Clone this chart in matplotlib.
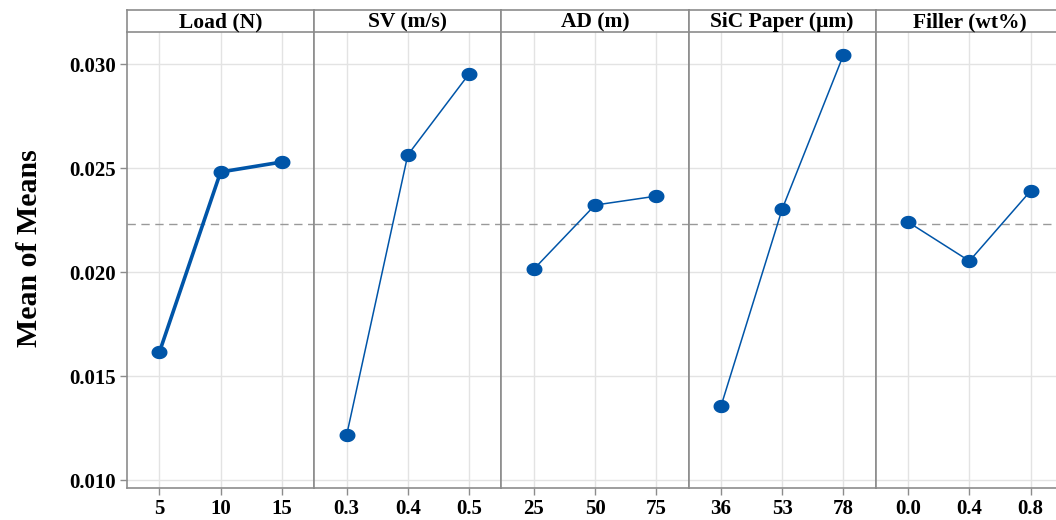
import matplotlib
matplotlib.use("Agg")
import matplotlib.pyplot as plt
from matplotlib.path import Path
import numpy as np

plt.rcParams['font.family'] = ['Liberation Serif', 'DejaVu Serif']
plt.rcParams['font.weight'] = 'bold'

factors = ["Load (N)", "SV (m/s)", "AD (m)", "SiC Paper (\u00b5m)", "Filler (wt%)"]
levels = [["5", "10", "15"], ["0.3", "0.4", "0.5"], ["25", "50", "75"],
          ["36", "53", "78"], ["0.0", "0.4", "0.8"]]
load_means = [0.01615, 0.02481, 0.02529]
sv_means = [0.01216, 0.02563, 0.02952]
ad_means = [0.02014, 0.02322, 0.02365]
sic_means = [0.01356, 0.02303, 0.03043]
filler_means = [0.02240, 0.02053, 0.02390]
series = [load_means, sv_means, ad_means, sic_means, filler_means]
overall_mean = 0.02231
yticks = [0.010, 0.015, 0.020, 0.025, 0.030]

W, H = 1056, 520
fig = plt.figure(figsize=(W / 100, H / 100), dpi=100)

left0 = 127
pw = 187.2
bottom_px = 488
top_px = 32
strip_top = 10
frame_col = '#8c8c8c'
grid_col = '#e3e3e3'
blue = '#0055A8'

# slightly wide elliptical marker
t = np.linspace(0, 2 * np.pi, 40)
ell = Path(np.column_stack([np.cos(t), 0.82 * np.sin(t)]), closed=True)

for i, (name, labs, vals) in enumerate(zip(factors, levels, series)):
    x0 = left0 + i * pw
    ax = fig.add_axes([x0 / W, (H - bottom_px) / H, pw / W, (bottom_px - top_px) / H])
    xs = np.arange(len(vals))
    ax.axhline(overall_mean, color='#999999', lw=1, ls=(0, (6, 4)), zorder=2)
    lw = 2.6 if i == 0 else 1.1
    ax.plot(xs, vals, color=blue, lw=lw, marker=ell, ms=10.5, mfc=blue, mec=blue, zorder=3)
    ax.set_xlim(-0.53, 2.53)
    ax.set_ylim(0.00962, 0.03154)
    ax.set_xticks(xs)
    ax.set_xticklabels(labs, fontsize=15, fontweight='bold')
    ax.set_yticks(yticks)
    ax.grid(True, color=grid_col, lw=1, zorder=0)
    ax.set_axisbelow(True)
    for s in ax.spines.values():
        s.set_color(frame_col)
        s.set_linewidth(1.2)
    ax.spines['top'].set_visible(False)
    ax.tick_params(axis='x', length=5, width=1, color=frame_col, pad=3)
    if i == 0:
        ax.set_yticklabels(["%.3f" % v for v in yticks], fontsize=15, fontweight='bold')
        ax.tick_params(axis='y', length=5, width=1, color=frame_col, pad=3)
        ax.set_ylabel("Mean of Means", fontsize=21.5, fontweight='bold')
        ax.yaxis.set_label_coords(-0.45, 0.525)
    else:
        ax.tick_params(axis='y', length=0, labelleft=False)
    # strip
    sx = fig.add_axes([x0 / W, (H - top_px) / H, pw / W, (top_px - strip_top) / H])
    sx.set_xticks([])
    sx.set_yticks([])
    sx.set_facecolor('white')
    for s in sx.spines.values():
        s.set_color(frame_col)
        s.set_linewidth(1.2)
    sx.text(0.5, 0.45, name, ha='center', va='center', fontsize=15.5, fontweight='bold',
            transform=sx.transAxes)

fig.savefig("out.png", dpi=100)
